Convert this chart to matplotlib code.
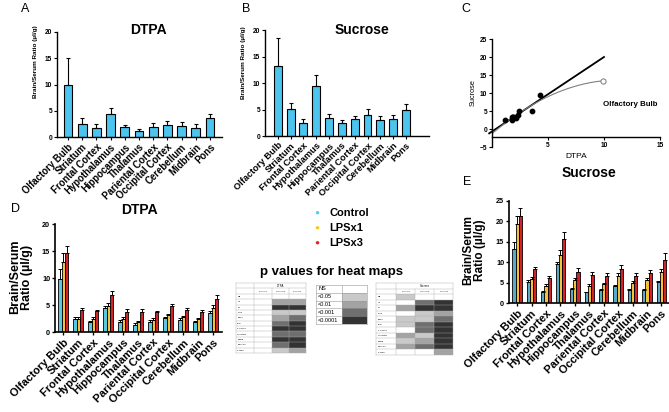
import numpy as np
import matplotlib
matplotlib.use("Agg")
import matplotlib.pyplot as plt
from matplotlib.colors import ListedColormap, BoundaryNorm

plt.rcParams['font.family'] = ['Liberation Sans', 'DejaVu Sans']
plt.rcParams['font.weight'] = 'bold'
plt.rcParams['axes.linewidth'] = 1.0

regions = ["Olfactory Bulb", "Striatum", "Frontal Cortex", "Hypothalamus", "Hippocampus",
           "Thalamus", "Pariental Cortex", "Occipital Cortex", "Cerebellum", "Midbrain", "Pons"]

# A / B: normal mice
dtpa_mean = [9.9, 2.4, 1.8, 4.3, 1.9, 1.2, 1.9, 2.35, 2.15, 1.8, 3.55]
dtpa_sem = [5.1, 1.2, 0.7, 1.3, 0.4, 0.4, 0.7, 0.75, 0.7, 0.6, 0.75]
suc_mean = [13.3, 5.1, 2.45, 9.5, 3.45, 2.5, 3.2, 4.0, 3.05, 3.2, 4.95]
suc_sem = [5.1, 1.2, 0.8, 2.0, 0.65, 0.5, 0.55, 1.1, 0.65, 0.7, 1.0]

# D: DTPA, control / LPSx1 / LPSx3
d_ctrl = [9.9, 2.5, 2.0, 4.45, 2.0, 1.35, 2.0, 2.6, 2.35, 1.85, 3.65]
d_ctrl_sem = [1.8, 0.4, 0.15, 0.45, 0.2, 0.3, 0.3, 0.25, 0.25, 0.25, 0.3]
d_lps1 = [13.0, 2.5, 2.5, 4.9, 2.5, 1.85, 2.35, 3.15, 2.85, 2.4, 4.5]
d_lps1_sem = [1.6, 0.35, 0.4, 0.5, 0.35, 0.25, 0.25, 0.25, 0.25, 0.25, 0.55]
d_lps3 = [14.75, 4.1, 3.9, 6.9, 3.8, 3.7, 3.7, 4.8, 4.2, 3.7, 6.1]
d_lps3_sem = [1.15, 0.4, 0.2, 0.7, 0.5, 0.55, 0.3, 0.5, 0.35, 0.45, 0.75]

# E: sucrose, control / LPSx1 / LPSx3
e_ctrl = [13.2, 5.3, 2.7, 9.6, 3.55, 2.7, 3.3, 4.1, 3.25, 3.3, 5.1]
e_ctrl_sem = [1.8, 0.4, 0.2, 0.4, 0.25, 0.15, 0.3, 0.4, 0.15, 0.2, 0.35]
e_lps1 = [19.4, 5.9, 4.3, 11.8, 5.6, 4.3, 4.6, 6.7, 4.9, 5.6, 7.7]
e_lps1_sem = [1.9, 0.4, 0.4, 1.1, 0.5, 0.3, 0.4, 0.6, 0.45, 0.5, 0.65]
e_lps3 = [21.3, 8.35, 6.25, 15.6, 7.6, 6.9, 6.65, 8.35, 6.7, 7.3, 10.55]
e_lps3_sem = [2.0, 0.55, 0.5, 1.7, 0.9, 0.8, 0.75, 0.95, 0.75, 0.7, 1.75]

groups = ["Control", "LPSx1", "LPSx3"]

# p value heat maps: 0 NS, 1 <0.05, 2 <0.01, 3 <0.001, 4 <0.0001
heat_rows = ["OB", "ST", "FC", "Hypo", "Hippo", "Thal", "P Cortex", "O Cortex", "Cereb", "Midbrain", "P Med"]
heat_cols = ["C vs X1", "X1 vs X3", "C vs X3"]
dtpa_p = [[0, 0, 0], [0, 2, 2], [0, 4, 4], [0, 1, 1], [0, 2, 3], [0, 3, 4],
          [0, 4, 4], [0, 3, 3], [0, 4, 4], [0, 3, 4], [0, 1, 2]]
suc_p = [[1, 0, 0], [0, 3, 4], [2, 4, 4], [0, 1, 2], [1, 1, 3], [1, 3, 4],
         [0, 3, 4], [2, 1, 4], [1, 2, 4], [2, 3, 4], [0, 0, 2]]
p_levels = ["NS", "<0.05", "<0.01", "<0.001", "<0.0001"]

blue = "#4cc4ee"
grp_colors = ["#5cc7e0", "#f3c13a", "#d2232a"]
legend_colors = ["#5ccbf0", "#f7c81e", "#e5261f"]
grays = ["white", "#c9c9c9", "#a3a3a3", "#6f6f6f", "#333333"]

W, H = 669, 412
fig = plt.figure(figsize=(W / 100, H / 100), dpi=100)


def box(x0, y0, x1, y1):
    return [x0 / W, 1 - y1 / H, (x1 - x0) / W, (y1 - y0) / H]


def ftext(x, y, s, **kw):
    fig.text(x / W, 1 - y / H, s, **kw)


def style(ax, lw=1.0):
    ax.patch.set_alpha(0)
    for s in ["top", "right"]:
        ax.spines[s].set_visible(False)
    ax.spines["left"].set_linewidth(lw)
    ax.spines["bottom"].set_linewidth(lw)
    ax.tick_params(length=2, width=lw * 0.8, pad=1.5)


def single_bars(ax, means, sems, tick_fs):
    x = np.arange(len(means))
    ax.bar(x, means, width=0.62, color=blue, edgecolor="black", linewidth=0.8, zorder=2)
    ax.errorbar(x, means, yerr=[np.zeros(len(means)), sems], fmt="none", ecolor="black",
                elinewidth=0.8, capsize=1.6, capthick=0.8, zorder=3)
    ax.set_ylim(0, 20)
    ax.set_yticks([0, 5, 10, 15, 20])
    ax.set_xticks(x)
    ax.set_xticklabels(regions, rotation=45, ha="right", rotation_mode="anchor", fontsize=tick_fs)
    ax.tick_params(axis="y", labelsize=4.8)
    style(ax)


def grouped_bars(ax, series, sems, colors, ymax, ystep):
    x = np.arange(len(regions))
    w = 0.22
    for i, (m, e, c) in enumerate(zip(series, sems, colors)):
        xi = x + (i - 1) * w
        ax.bar(xi, m, width=w, color=c, edgecolor="black", linewidth=0.6, zorder=2)
        ax.errorbar(xi, m, yerr=[np.zeros(len(m)), e], fmt="none", ecolor="black",
                    elinewidth=0.7, capsize=1.2, capthick=0.7, zorder=3)
    ax.set_ylim(0, ymax)
    ax.set_yticks(np.arange(0, ymax + 1, ystep))
    ax.set_xticks(x)
    ax.set_xticklabels(regions, rotation=45, ha="right", rotation_mode="anchor", fontsize=8)
    ax.tick_params(axis="y", labelsize=5.2)
    style(ax, 1.2)


# ---- A
axa = fig.add_axes(box(57, 32, 222, 137))
single_bars(axa, dtpa_mean, dtpa_sem, 6.9)
axa.set_xlim(-0.77, 10.85)
ftext(36, 62, "Brain/Serum Ratio (µl/g)", rotation=90, ha="center", va="center", fontsize=4.6)
ftext(148, 30, "DTPA", ha="center", va="center", fontsize=10)
ftext(25, 9, "A", ha="center", va="center", fontsize=9, fontweight="normal")

# ---- B
axb = fig.add_axes(box(265, 30, 429, 136))
single_bars(axb, suc_mean, suc_sem, 6.7)
axb.set_xlim(-1.0, 11.8)
ftext(244, 63, "Brain/Serum Ratio (µl/g)", rotation=90, ha="center", va="center", fontsize=4.6)
ftext(362, 30, "Sucrose", ha="center", va="center", fontsize=10)
ftext(246, 9, "B", ha="center", va="center", fontsize=9, fontweight="normal")

# ---- C
axc = fig.add_axes(box(492, 39, 660, 147))
style(axc)
axc.scatter(dtpa_mean[1:], suc_mean[1:], s=10, color="black", zorder=3)
axc.scatter(dtpa_mean[:1], suc_mean[:1], s=14, facecolor="white", edgecolor="#777777",
            linewidth=0.7, zorder=3)
fit1 = np.polyfit(dtpa_mean[1:], suc_mean[1:], 1)
xs = np.linspace(-0.25, 10, 50)
axc.plot(xs, np.polyval(fit1, xs), color="black", lw=1.3, clip_on=False)
fit2 = np.polyfit(dtpa_mean, suc_mean, 2)
xs2 = np.linspace(0, dtpa_mean[0], 100)
axc.plot(xs2, np.polyval(fit2, xs2), color="#808080", lw=0.8)
axc.set_xlim(0, 15)
axc.set_ylim(-5, 25)
axc.spines["bottom"].set_position(("data", -2.2))
axc.set_xticks([5, 10, 15])
axc.set_yticks([-5, 0, 5, 10, 15, 20, 25])
axc.tick_params(labelsize=4.8)
axc.set_xlabel("DTPA", fontsize=6, labelpad=3)
axc.set_ylabel("Sucrose", fontsize=5.3, labelpad=2)
axc.text(12.3, 6.9, "Olfactory Bulb", ha="center", va="center", fontsize=5.7)
ftext(466, 9, "C", ha="center", va="center", fontsize=9, fontweight="normal")

# ---- D
axd = fig.add_axes(box(55, 224.3, 222, 332.3))
grouped_bars(axd, [d_ctrl, d_lps1, d_lps3], [d_ctrl_sem, d_lps1_sem, d_lps3_sem], grp_colors, 20, 5)
axd.set_xlim(-0.55, 10.58)
ftext(21, 277, "Brain/Serum\nRatio (µl/g)", rotation=90, ha="center", va="center",
      fontsize=9, linespacing=1.0)
ftext(139, 210, "DTPA", ha="center", va="center", fontsize=10)
ftext(16, 209, "D", ha="center", va="center", fontsize=9, fontweight="normal")

# ---- E
axe = fig.add_axes(box(509, 200.7, 669, 303.3))
grouped_bars(axe, [e_ctrl, e_lps1, e_lps3], [e_ctrl_sem, e_lps1_sem, e_lps3_sem],
             ["#5aa9c8", "#f3c13a", "#d2232a"], 25, 5)
axe.set_xlim(-0.57, 10.53)
ftext(474, 250, "Brain/Serum\nRatio (µl/g)", rotation=90, ha="center", va="center",
      fontsize=8.5, linespacing=1.0)
ftext(589, 173, "Sucrose", ha="center", va="center", fontsize=10)
ftext(467, 182, "E", ha="center", va="center", fontsize=9, fontweight="normal")

# ---- legend
for i, (g, c) in enumerate(zip(groups, legend_colors)):
    yy = 213 + i * 15
    ftext(317, yy, "●", ha="center", va="center", fontsize=6, color=c)
    ftext(329, yy, g, ha="left", va="center", fontsize=8)
ftext(331, 272, "p values for heat maps", ha="center", va="center", fontsize=9.5)

# ---- heat map tables
cmap = ListedColormap(grays)
norm = BoundaryNorm(np.arange(-0.5, 5.5, 1), cmap.N)


def heat_table(rect, levels, title):
    ax = fig.add_axes(box(*rect))
    col_edges = [0, 0.26, 0.51, 0.755, 1.0]
    n = len(heat_rows)
    ax.pcolormesh(col_edges[1:], np.arange(2, n + 3), np.array(levels), cmap=cmap, norm=norm)
    ax.set_xlim(0, 1)
    ax.set_ylim(n + 2, 0)
    for yy in range(1, n + 2):
        ax.axhline(yy, color="#aaaaaa", lw=0.3)
    for xx in col_edges[1:-1]:
        ax.plot([xx, xx], [1 if xx > 0.3 else 0, n + 2], color="#aaaaaa", lw=0.3)
    ax.text(0.63, 0.5, title, ha="center", va="center", fontsize=2, fontweight="normal")
    for j, cl in enumerate(heat_cols):
        ax.text((col_edges[j + 1] + col_edges[j + 2]) / 2, 1.5, cl, ha="center", va="center",
                fontsize=1.6, fontweight="normal")
    for i, rl in enumerate(heat_rows):
        ax.text(0.02, i + 2.5, rl, ha="left", va="center", fontsize=1.6, fontweight="normal")
    ax.set_xticks([])
    ax.set_yticks([])
    for s in ax.spines.values():
        s.set_linewidth(0.3)
        s.set_color("#aaaaaa")


heat_table((236, 283, 306, 353), dtpa_p, "DTPA")
heat_table((376, 283, 453, 355), suc_p, "Sucrose")

axk = fig.add_axes(box(316, 285, 367, 324))
axk.pcolormesh([0.5, 1.0], np.arange(0, len(p_levels) + 1), np.arange(len(p_levels)).reshape(-1, 1),
               cmap=cmap, norm=norm)
axk.set_xlim(0, 1)
axk.set_ylim(len(p_levels), 0)
for yy in range(1, len(p_levels)):
    axk.axhline(yy, color="#999999", lw=0.4)
axk.axvline(0.5, color="#999999", lw=0.4)
for i, lab in enumerate(p_levels):
    axk.text(0.04, i + 0.5, lab, ha="left", va="center", fontsize=4, fontweight="normal")
axk.set_xticks([])
axk.set_yticks([])
for s in axk.spines.values():
    s.set_linewidth(0.4)
    s.set_color("#999999")

fig.savefig("out.png", dpi=100)
